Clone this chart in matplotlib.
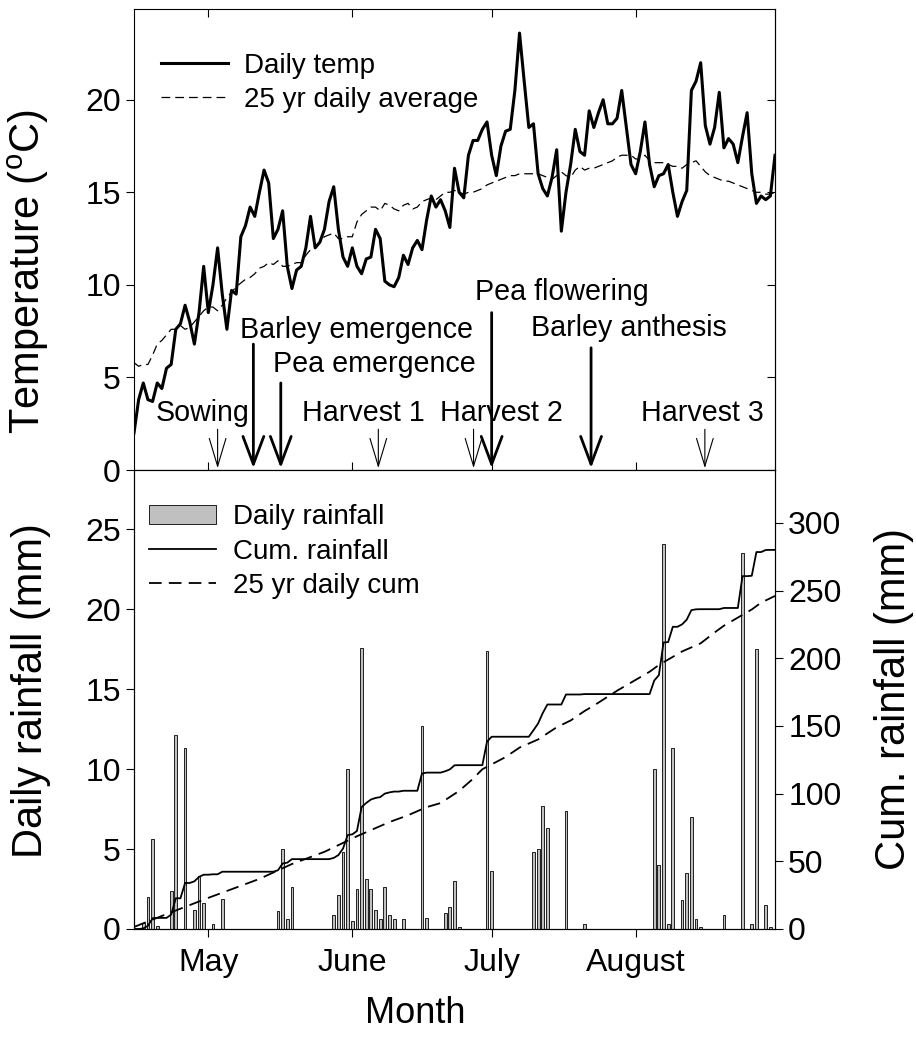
import numpy as np
import matplotlib
matplotlib.use("Agg")
import matplotlib.pyplot as plt
from matplotlib.patches import ArrowStyle

plt.rcParams['font.family'] = ['Liberation Sans', 'DejaVu Sans']
plt.rcParams['mathtext.fontset'] = 'custom'
plt.rcParams['mathtext.rm'] = 'Liberation Sans'

# day of year, 15 April to 31 August
first_day = 105
last_day = 243

daily_temp = [
    2.0, 3.8, 4.7, 3.8, 3.7, 4.7, 4.4, 5.5, 5.7, 7.6,
    7.9, 8.9, 8.0, 6.8, 8.5, 11.0, 8.5, 10.0, 12.0, 9.5,
    7.6, 9.7, 9.5, 12.6, 13.2, 14.2, 13.7, 15.0, 16.2, 15.5,
    12.5, 13.0, 14.0, 11.0, 9.8, 10.8, 11.0, 12.0, 13.7, 12.0,
    12.3, 13.0, 14.5, 15.3, 13.0, 11.5, 11.0, 12.0, 11.0, 10.6,
    11.4, 11.5, 13.0, 12.5, 10.2, 10.0, 9.9, 10.4, 11.6, 11.1,
    12.0, 12.4, 11.9, 13.5, 14.8, 14.2, 14.6, 14.0, 13.1, 16.3,
    15.0, 14.7, 17.0, 17.8, 17.8, 18.4, 18.8, 17.0, 15.9, 17.5,
    18.3, 18.4, 20.5, 23.6, 21.0, 18.5, 18.7, 16.0, 15.2, 14.8,
    15.8, 17.3, 12.9, 15.0, 16.5, 18.4, 17.2, 17.0, 19.4, 18.5,
    19.3, 20.0, 18.7, 18.7, 19.0, 20.5, 18.5, 16.5, 16.0, 17.2,
    18.8, 16.5, 15.3, 15.9, 16.0, 16.5, 15.0, 13.7, 14.5, 15.1,
    20.5, 21.0, 22.0, 18.6, 17.6, 18.5, 20.4, 17.4, 17.9, 17.6,
    16.6, 18.0, 19.3, 16.0, 14.4, 14.8, 14.6, 14.8, 17.0,
]

avg_temp = [
    5.8, 5.6, 5.7, 5.7, 6.2, 6.8, 7.0, 7.3, 7.6, 7.6,
    7.8, 7.6, 7.7, 8.0, 8.3, 8.6, 8.8, 8.8, 8.6, 8.9,
    9.3, 9.6, 9.9, 10.1, 10.3, 10.4, 10.6, 10.9, 11.0, 11.2,
    11.1, 11.3, 11.0, 11.0, 11.1, 11.2, 11.2, 11.6, 11.9, 12.0,
    12.3, 12.6, 12.7, 12.8, 12.5, 12.5, 12.6, 12.6, 13.4, 13.8,
    14.0, 14.2, 14.2, 14.0, 14.4, 14.3, 14.1, 14.0, 14.3, 14.4,
    14.1, 14.2, 14.5, 14.6, 14.7, 14.6, 14.8, 15.0, 15.0, 15.1,
    15.0, 14.9, 15.0, 15.0, 15.1, 15.2, 15.4, 15.5, 15.6, 15.7,
    15.8, 15.9, 15.9, 16.0, 16.0, 16.0, 16.0, 16.0, 15.9, 15.8,
    15.7, 15.9, 16.1, 15.9, 15.8, 16.2, 16.4, 16.2, 16.3, 16.3,
    16.4, 16.5, 16.6, 16.7, 16.9, 17.0, 17.0, 17.0, 16.8, 16.8,
    17.0, 16.7, 16.6, 16.6, 16.6, 16.5, 16.4, 16.4, 16.3, 16.5,
    16.6, 16.7, 16.4, 16.1, 15.9, 15.8, 15.7, 15.6, 15.6, 15.5,
    15.4, 15.3, 15.2, 15.1, 15.0, 15.0, 14.9, 14.9, 15.0,
]

rain_days = [107, 108, 109, 110, 113, 114, 116, 118, 119, 120, 122, 124,
             136, 137, 138, 139, 148, 149, 150, 151, 152, 153, 154, 155,
             156, 157, 158, 159, 160, 161, 163, 167, 168, 172, 173, 174,
             175, 181, 182, 191, 192, 193, 194, 198, 202, 217, 218, 219,
             220, 221, 223, 224, 225, 226, 227, 232, 236, 238, 239, 241, 242]
rain_mm = [0.4, 2.0, 5.6, 0.2, 2.4, 12.1, 11.3, 1.2, 3.3, 1.6, 0.3, 1.9,
           1.1, 5.0, 0.6, 2.6, 0.9, 2.1, 4.8, 10.0, 0.5, 2.5, 17.6, 3.1,
           2.5, 1.2, 0.6, 2.6, 0.9, 0.6, 0.6, 12.7, 0.7, 1.0, 1.4, 3.0,
           0.1, 17.4, 3.6, 4.8, 5.0, 7.7, 6.3, 7.4, 0.3, 10.0, 4.0, 24.1,
           0.3, 11.3, 1.8, 3.5, 7.0, 0.6, 0.1, 0.9, 23.5, 0.3, 17.5, 1.5, 0.1]

cum_avg_days = [105, 112, 121, 132, 139, 146, 153, 160, 164, 168, 171, 175,
                178, 180, 185, 188, 192, 196, 199, 202, 204, 209, 211, 216,
                218, 220, 223, 227, 230, 232, 234, 238, 240, 243]
cum_avg_mm = [1.5, 11, 23, 37, 48, 57, 68.5, 79, 84, 90, 93, 102,
              111, 118, 127, 134, 140, 149, 154, 161, 165, 176, 180, 190,
              195, 199, 205, 211, 219, 224, 228, 236, 241, 246]

month_days = [121, 152, 182, 213]
month_names = ['May', 'June', 'July', 'August']

# crop events and where their arrows start (deg C)
event_names = ['Sowing', 'Barley emergence', 'Pea emergence', 'Harvest 1',
               'Harvest 2', 'Pea flowering', 'Barley anthesis', 'Harvest 3']
event_days = [123, 130.7, 136.6, 157.6, 178.1, 182.0, 203.4, 227.9]
event_major = [False, True, True, False, False, True, True, False]
arrow_start = [2.2, 6.8, 4.7, 2.2, 2.2, 8.5, 6.6, 2.2]

days = np.arange(first_day, last_day + 1)
rain_daily = np.zeros(len(days))
rain_daily[np.array(rain_days) - first_day] = rain_mm
rain_cum = np.cumsum(rain_daily)

W, H = 916, 1042
fig = plt.figure(figsize=(W / 100, H / 100), dpi=100)
left = 134 / W
width = (775 - 134) / W
ax1 = fig.add_axes([left, 1 - 470 / H, width, (470 - 9) / H])
ax2 = fig.add_axes([left, 1 - 929 / H, width, (929 - 470) / H])
ax3 = ax2.twinx()

fs = 20
tick_fs = 23
ylab_fs = 30
xlab_fs = 26

# --- temperature panel ---
ax1.plot(days, daily_temp, color='black', lw=2.2, label='Daily temp',
         solid_joinstyle='round')
ax1.plot(days, avg_temp, color='black', lw=0.9, ls=(0, (7, 4)),
         label='25 yr daily average')
ax1.set_xlim(first_day, last_day)
ax1.set_ylim(0, 24.9)
ax1.set_yticks([0, 5, 10, 15, 20])
ax1.set_xticks(month_days)
ax1.tick_params(axis='y', left=True, right=False, labelsize=tick_fs,
                length=6, direction='out')
ax1.tick_params(axis='x', top=True, bottom=False, labelbottom=False,
                direction='in', length=6)
ax1r = ax1.secondary_yaxis('right')
ax1r.set_yticks([0, 5, 10, 15, 20])
ax1r.tick_params(axis='y', direction='in', length=6, labelright=False)
ax1.set_ylabel('Temperature ($^{\\mathrm{o}}$C)', fontsize=ylab_fs)
ax1.yaxis.set_label_coords(-0.13, 0.43)
ax1.legend(loc='upper left', bbox_to_anchor=(0.042, 0.905), frameon=False,
           fontsize=fs, handlelength=2.4, handletextpad=0.6,
           labelspacing=0.3, borderaxespad=0, borderpad=0)

thin = ArrowStyle('->', head_length=2.0, head_width=0.6)
bold = ArrowStyle('->', head_length=2.0, head_width=0.75)
for d, top, major in zip(event_days, arrow_start, event_major):
    ax1.annotate('', xy=(d, 0.1), xytext=(d, top),
                 arrowprops=dict(arrowstyle=bold if major else thin,
                                 lw=2.0 if major else 0.8, color='black',
                                 shrinkA=0, shrinkB=0, mutation_scale=10))

label_pos = {'Sowing': (119.7, 3.1, 'center'),
             'Barley emergence': (127.9, 7.55, 'left'),
             'Pea emergence': (135.0, 5.75, 'left'),
             'Harvest 1': (154.3, 3.1, 'center'),
             'Harvest 2': (184.0, 3.1, 'center'),
             'Pea flowering': (197.0, 9.6, 'center'),
             'Barley anthesis': (211.5, 7.65, 'center'),
             'Harvest 3': (227.3, 3.1, 'center')}
for name in event_names:
    x, y, ha = label_pos[name]
    ax1.text(x, y, name, fontsize=fs * 1.03, ha=ha, va='center')

# --- rainfall panel ---
ax2.bar(rain_days, rain_mm, width=0.6, color='#c0c0c0', edgecolor='black',
        lw=0.6, label='Daily rainfall', zorder=2)
ax3.plot(days, rain_cum, color='black', lw=1.3, label='Cum. rainfall')
ax3.plot(cum_avg_days, cum_avg_mm, color='black', lw=1.3, ls=(0, (7, 4)),
         label='25 yr daily cum')
ax2.set_xlim(first_day, last_day)
ax2.set_ylim(0, 28.7)
ax3.set_ylim(0, 339)
ax2.set_yticks([0, 5, 10, 15, 20, 25])
ax3.set_yticks([0, 50, 100, 150, 200, 250, 300])
ax2.set_xticks(month_days)
ax2.set_xticklabels(month_names)
ax2.tick_params(axis='x', top=True, bottom=True, direction='out', length=6,
                labelsize=tick_fs, pad=8)
ax2.tick_params(axis='y', direction='out', length=6, labelsize=tick_fs)
ax3.tick_params(axis='y', direction='out', length=6, labelsize=tick_fs)
ax2.set_ylabel('Daily rainfall (mm)', fontsize=ylab_fs)
ax2.yaxis.set_label_coords(-0.13, 0.52)
ax3.set_ylabel('Cum. rainfall (mm)', fontsize=ylab_fs)
ax3.yaxis.set_label_coords(1.155, 0.5)
ax2.set_xlabel('Month', fontsize=xlab_fs)
ax2.xaxis.set_label_coords(0.438, -0.145)

h2, l2 = ax2.get_legend_handles_labels()
h3, l3 = ax3.get_legend_handles_labels()
ax3.legend(h2 + h3, l2 + l3, loc='upper left', bbox_to_anchor=(0.024, 0.925),
           frameon=False, fontsize=fs, handlelength=2.4, handletextpad=0.6,
           labelspacing=0.3, borderaxespad=0, borderpad=0)

fig.savefig('out.png', dpi=100)
